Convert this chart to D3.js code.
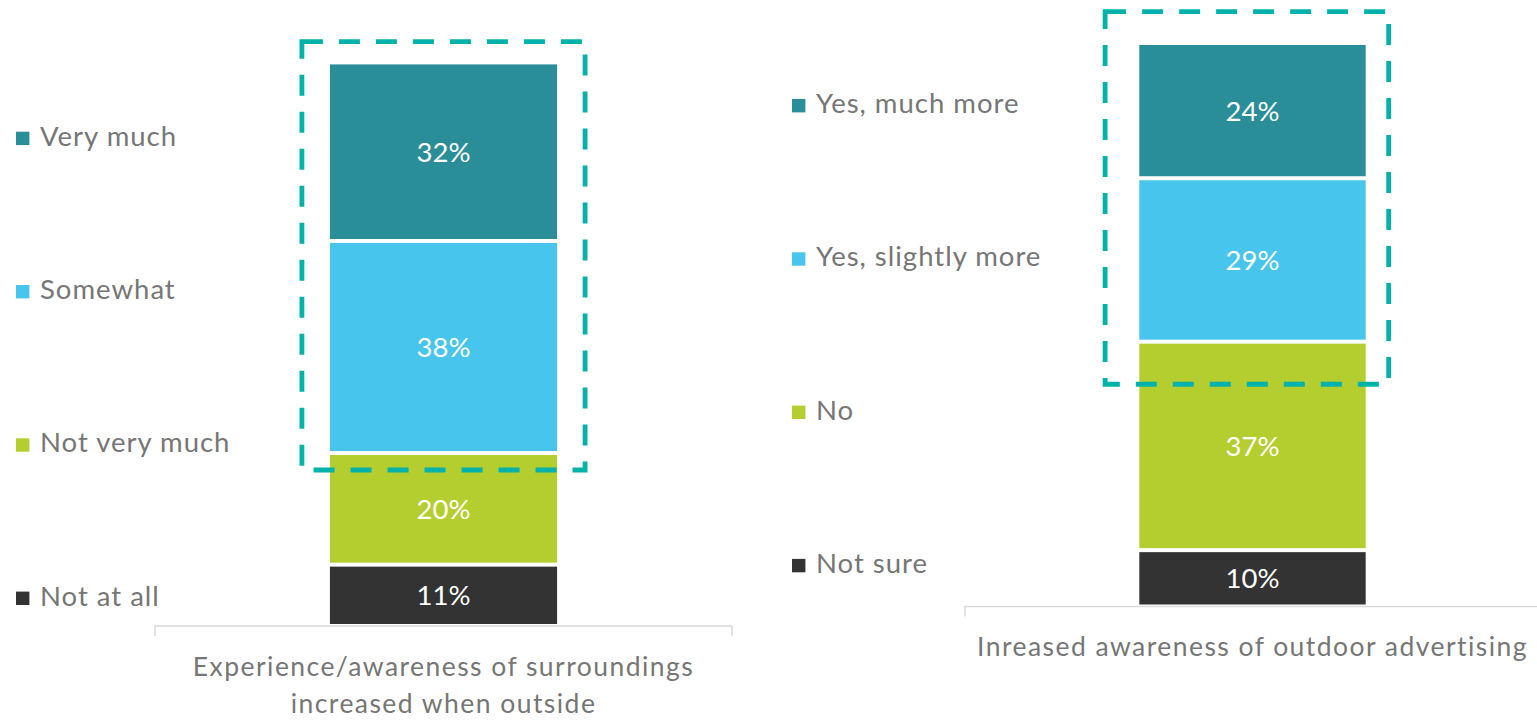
<!DOCTYPE html>
<html>
<head>
<meta charset="utf-8">
<script src="https://cdn.jsdelivr.net/npm/d3@7"></script>
<style>
  html, body { margin: 0; padding: 0; background: #ffffff; }
  svg { display: block; }
  text { font-family: Lato, "Noto Sans", sans-serif; }
</style>
</head>
<body>
<svg id="chart" width="1537" height="720"></svg>
<script>
// Survey answers, bottom segment first
const surroundingsAnswers = ["Not at all", "Not very much", "Somewhat", "Very much"];
const surroundingsValues = [11, 20, 38, 32];
const surroundingsTitle = ["Experience/awareness of surroundings", "increased when outside"];

const advertisingAnswers = ["Not sure", "No", "Yes, slightly more", "Yes, much more"];
const advertisingValues = [10, 37, 29, 24];
const advertisingTitle = ["Inreased awareness of outdoor advertising"];

const segmentColors = ["#333333", "#B5CE2F", "#48C5EC", "#2A8E99"];

// Number of top segments enclosed by the dashed highlight box
const highlightedCount = 2;

const svg = d3.select("#chart");
const TEXT_GREY = "#767676";
const AXIS_GREY = "#D9D9D9";
const HIGHLIGHT = "#00B2A9";

const panels = [
  {
    answers: surroundingsAnswers, values: surroundingsValues, title: surroundingsTitle,
    axisX: [155, 732], baseline: 626, fullHeight: 558,
    legendX: 16, legendTop: 131.7,
    box: { left: 28, right: 28, top: 20.7, bottom: 17 }
  },
  {
    answers: advertisingAnswers, values: advertisingValues, title: advertisingTitle,
    axisX: [965, 1540], baseline: 606.5, fullHeight: 563.5,
    legendX: 792, legendTop: 99,
    box: { left: 34.2, right: 23, top: 31.3, bottom: 42.6 }
  }
];

const legendStep = 153.3;
const legendSize = 13.4;

panels.forEach(p => {
  const g = svg.append("g");

  // one row table for the stack layout
  const row = {};
  p.answers.forEach((a, i) => { row[a] = p.values[i]; });
  const series = d3.stack().keys(p.answers)([row]);

  const x = d3.scaleBand()
    .domain([p.title.join(" ")])
    .range(p.axisX)
    .paddingInner(0)
    .paddingOuter(0.77);

  const y = d3.scaleLinear()
    .domain([0, 100])
    .range([p.baseline, p.baseline - p.fullHeight]);

  const color = d3.scaleOrdinal().domain(p.answers).range(segmentColors);
  const bx = x(p.title.join(" "));
  const bw = x.bandwidth();
  const gap = 2;

  // stacked segments
  g.selectAll("rect.seg")
    .data(series)
    .join("rect")
    .attr("class", "seg")
    .attr("x", bx)
    .attr("width", bw)
    .attr("y", d => y(d[0][1]) + gap)
    .attr("height", d => y(d[0][0]) - y(d[0][1]) - 2 * gap)
    .attr("fill", d => color(d.key));

  // value labels
  g.selectAll("text.val")
    .data(series)
    .join("text")
    .attr("class", "val")
    .attr("x", bx + bw / 2)
    .attr("y", d => (y(d[0][0]) + y(d[0][1])) / 2)
    .attr("dy", "0.36em")
    .attr("text-anchor", "middle")
    .attr("fill", "#ffffff")
    .attr("font-size", 27.5)
    .text(d => `${d[0][1] - d[0][0]}%`);

  // category axis
  const axisY = p.baseline;
  const axisG = g.append("g").attr("transform", `translate(0,${axisY})`);
  axisG.append("path")
    .attr("d", `M${p.axisX[0]},10V0H${p.axisX[1]}V10`)
    .attr("fill", "none")
    .attr("stroke", AXIS_GREY)
    .attr("stroke-width", 1.5);

  const cx = (p.axisX[0] + p.axisX[1]) / 2;
  p.title.forEach((line, i) => {
    axisG.append("text")
      .attr("x", cx)
      .attr("y", 49.5 + i * 37.5)
      .attr("text-anchor", "middle")
      .attr("fill", TEXT_GREY)
      .attr("font-size", 26.5)
      .attr("letter-spacing", 1.45)
      .text(line);
  });

  // dashed highlight around the top segments
  const topSeries = series.slice(series.length - highlightedCount);
  const hiTop = y(d3.max(topSeries, s => s[0][1]));
  const hiBottom = y(d3.min(topSeries, s => s[0][0]));
  g.append("rect")
    .attr("x", bx - p.box.left)
    .attr("y", hiTop - p.box.top)
    .attr("width", bw + p.box.left + p.box.right)
    .attr("height", hiBottom - hiTop + p.box.top + p.box.bottom)
    .attr("fill", "none")
    .attr("stroke", HIGHLIGHT)
    .attr("stroke-width", 4.8)
    .attr("stroke-dasharray", "21,16");

  // legend, top series first
  const legendItems = p.answers.slice().reverse();
  const lg = g.selectAll("g.legend")
    .data(legendItems)
    .join("g")
    .attr("class", "legend")
    .attr("transform", (d, i) => `translate(${p.legendX},${p.legendTop + i * legendStep})`);
  lg.append("rect")
    .attr("width", legendSize)
    .attr("height", legendSize)
    .attr("fill", d => color(d));
  lg.append("text")
    .attr("x", 24)
    .attr("y", legendSize + 0.5)
    .attr("fill", TEXT_GREY)
    .attr("font-size", 27.5)
    .attr("letter-spacing", 1)
    .text(d => d);
});
</script>
</body>
</html>
